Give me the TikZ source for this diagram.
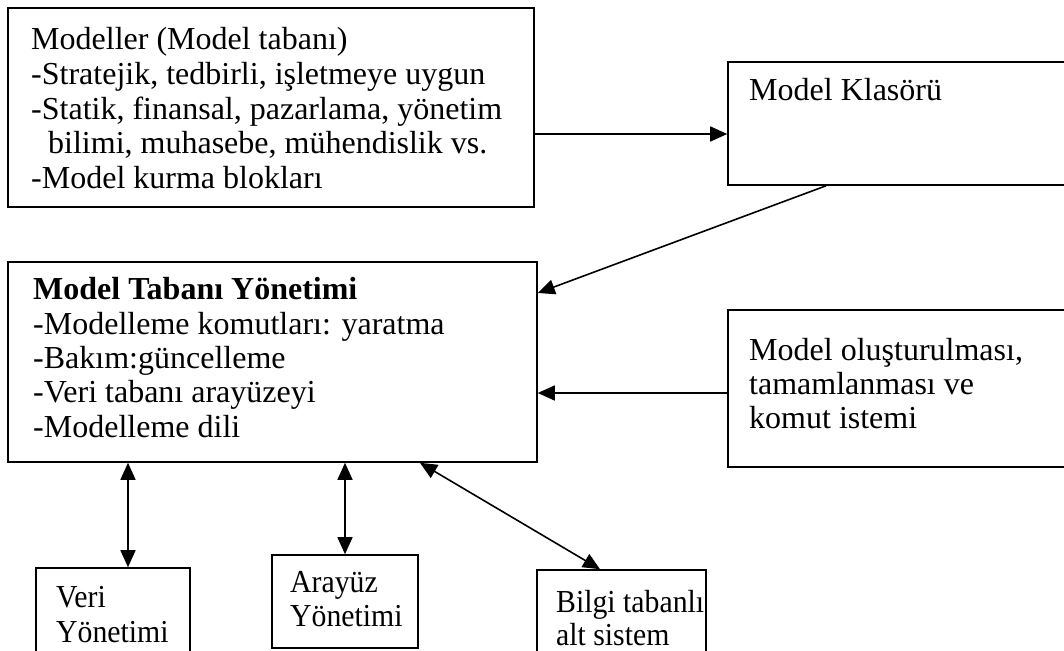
\documentclass[tikz,border=0pt]{standalone}
\usepackage{fontspec}
\setmainfont{Liberation Serif}
\usetikzlibrary{arrows.meta}
\begin{document}
\begin{tikzpicture}[x=1pt,y=-1pt,
  box/.style={draw, rectangle, line width=1.6pt, inner sep=0pt},
  txt/.style={anchor=base west, inner sep=0pt, font=\fontsize{32}{34}\selectfont},
  narrowtxt/.style={txt, xscale=0.93},
  arr/.style={line width=1.6pt, -{Triangle[length=17pt,width=15pt]}},
  darr/.style={line width=1.6pt, {Triangle[length=17pt,width=15pt]}-{Triangle[length=17pt,width=15pt]}}]
  \useasboundingbox (0,0) rectangle (1064,650);
  \clip (0,0) rectangle (1064,650);

  % boxes
  \node[box, minimum width=526pt, minimum height=199pt] (b1) at (271,107.5) {};
  \node[box, minimum width=362pt, minimum height=123pt] (k)  at (909,123.5) {};
  \node[box, minimum width=529pt, minimum height=200pt] (m)  at (272.5,362) {};
  \node[box, minimum width=362pt, minimum height=157pt] (o)  at (909,388.5) {};
  \node[box, minimum width=154pt, minimum height=112pt] (v)  at (113,624) {};
  \node[box, minimum width=146pt, minimum height=93pt]  (a)  at (345,601.5) {};
  \node[box, minimum width=169pt, minimum height=110pt] (bt) at (621.5,625) {};

  % model base
  \node[txt] (b1t1) at (31,50)    {Modeller (Model tabanı)};
  \node[txt] (b1t2) at (31,84.5)  {-Stratejik, tedbirli, işletmeye uygun};
  \node[txt] (b1t3) at (31,119)   {-Statik, finansal, pazarlama, yönetim};
  \node[txt] (b1t4) at (48,153.5) {bilimi, muhasebe, mühendislik vs.};
  \node[txt] (b1t5) at (31,188)   {-Model kurma blokları};

  % model folder
  \node[txt] (kt1) at (749,100) {Model Klasörü};

  % model base management
  \node[txt] (mt1) at (33,299) {\bfseries Model Tabanı Yönetimi};
  \node[txt] (mt2) at (33,334) {-Modelleme komutları: yaratma};
  \node[txt] (mt3) at (33,368) {-Bakım:güncelleme};
  \node[txt] (mt4) at (33,402) {-Veri tabanı arayüzeyi};
  \node[txt] (mt5) at (33,437) {-Modelleme dili};

  % model building request
  \node[txt] (ot1) at (749,360) {Model oluşturulması,};
  \node[txt] (ot2) at (749,394) {tamamlanması ve};
  \node[txt] (ot3) at (749,428) {komut istemi};

  % subsystems
  \node[narrowtxt] (vt1) at (56,607) {Veri};
  \node[narrowtxt] (vt2) at (56,642) {Yönetimi};
  \node[narrowtxt] (at1) at (290,592) {Arayüz};
  \node[narrowtxt] (at2) at (290,626) {Yönetimi};
  \node[narrowtxt] (bt1) at (556,612) {Bilgi tabanlı};
  \node[narrowtxt] (bt2) at (556,645) {alt sistem};

  % connectors
  \draw[arr] (b1.east |- 0,134) -- (k.west |- 0,134);
  \draw[arr] (k.south -| 826,0) -- (m.east |- 0,293);
  \draw[arr] (o.west |- 0,393) -- (m.east |- 0,393);
  \draw[darr] (m.south -| 128,0) -- (v.north -| 128,0);
  \draw[darr] (m.south -| 345,0) -- (a.north -| 345,0);
  \draw[darr] (m.south -| 420,0) -- (bt.north -| 600,0);
\end{tikzpicture}
\end{document}
